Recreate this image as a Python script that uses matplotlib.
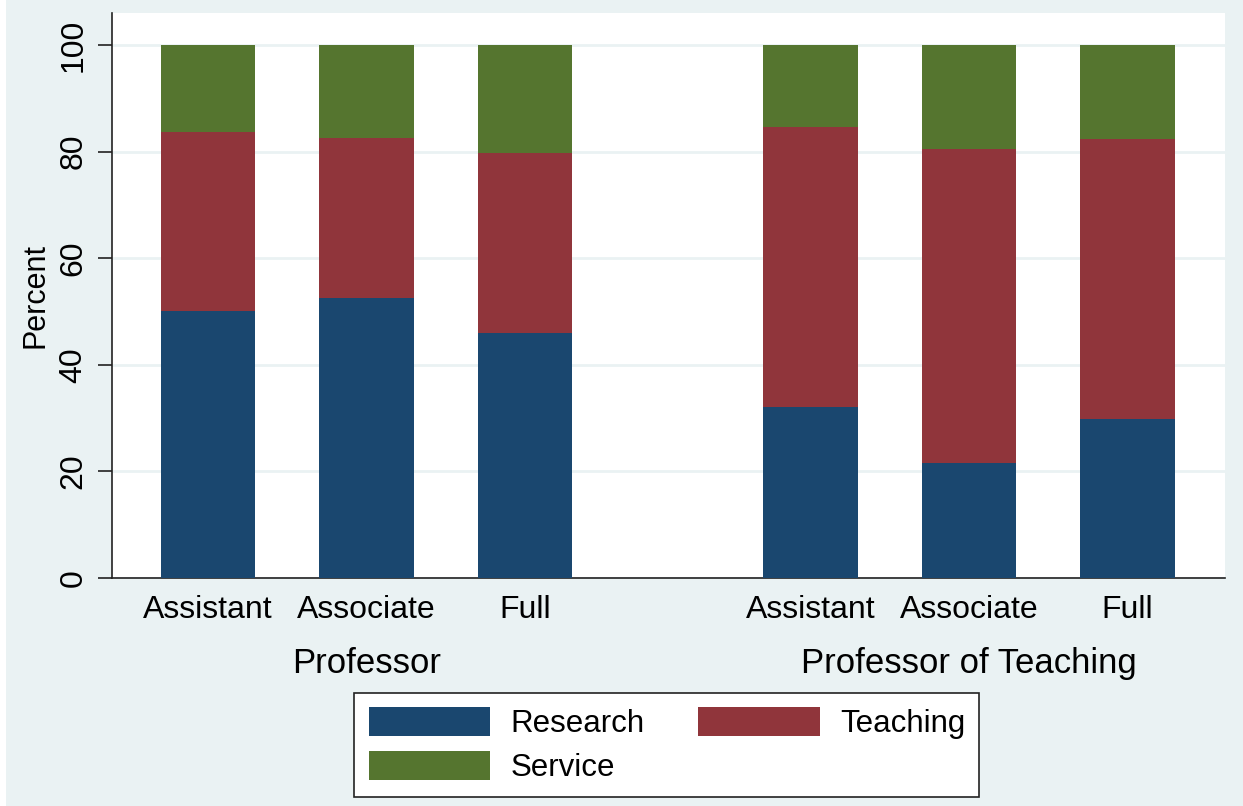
import matplotlib
matplotlib.use('Agg')
import matplotlib.pyplot as plt
from matplotlib.patches import Rectangle
from matplotlib.transforms import blended_transform_factory
import numpy as np

plt.rcParams['font.family'] = ['Liberation Sans', 'DejaVu Sans']

# datos
grupos = ['Professor', 'Professor of Teaching']
rangos = ['Assistant', 'Associate', 'Full']
research = [50.1, 52.6, 46.0, 32.0, 21.6, 29.8]
teaching = [33.6, 29.9, 33.7, 52.6, 58.9, 52.6]
service = [16.3, 17.5, 20.3, 15.4, 19.5, 17.6]

color_research = '#1A476F'
color_teaching = '#90353B'
color_service = '#55752F'
color_fondo = '#EAF2F3'

pos = np.array([0, 1, 2, 3.8, 4.8, 5.8])
ancho = 0.595

fig = plt.figure(figsize=(12.43, 8.06), dpi=100)
fig.patch.set_facecolor('white')
fig.patches.append(Rectangle((6/1243, 0), 1, 1, transform=fig.transFigure,
                             facecolor=color_fondo, edgecolor='none', zorder=-10))
ax = fig.add_axes([112/1243, 1 - 578/806, (1225 - 112)/1243, (578 - 13)/806])
ax.set_facecolor('white')

research = np.array(research)
teaching = np.array(teaching)
service = np.array(service)

b1 = ax.bar(pos, research, width=ancho, color=color_research, label='Research', zorder=3)
b2 = ax.bar(pos, teaching, width=ancho, bottom=research, color=color_teaching,
            label='Teaching', zorder=3)
b3 = ax.bar(pos, service, width=ancho, bottom=research + teaching, color=color_service,
            label='Service', zorder=3)

ax.set_ylim(0, 106)
ax.set_xlim(-0.606, 6.416)
ax.set_yticks([0, 20, 40, 60, 80, 100])
ax.yaxis.grid(True, color=color_fondo, linewidth=2, zorder=0)
ax.set_axisbelow(True)

ax.set_xticks(pos)
ax.set_xticklabels(rangos * 2, fontsize=23)
ax.tick_params(axis='x', length=0, pad=12)
ax.tick_params(axis='y', length=10, width=1.2, pad=7, labelsize=23, color='#222222')
for t in ax.get_yticklabels():
    t.set_rotation(90)
    t.set_va('center')

ax.set_ylabel('Percent', fontsize=22, labelpad=6)

for s in ['top', 'right']:
    ax.spines[s].set_visible(False)
for s in ['left', 'bottom']:
    ax.spines[s].set_color('#222222')
    ax.spines[s].set_linewidth(1.2)

trans = blended_transform_factory(ax.transData, ax.transAxes)
ax.text(pos[:3].mean(), -0.151, grupos[0], transform=trans, ha='center', va='center',
        fontsize=25)
ax.text(pos[3:].mean(), -0.151, grupos[1], transform=trans, ha='center', va='center',
        fontsize=25)

# orden por filas como en la figura original
leg = fig.legend([b1, b3, b2], ['Research', 'Service', 'Teaching'],
                 loc='center', bbox_to_anchor=(667/1243, 1 - 745/806), ncol=2,
                 fontsize=22.5, frameon=True, fancybox=False, edgecolor='#222222',
                 facecolor='white', framealpha=1,
                 handlelength=3.9, handleheight=1.05, handletextpad=0.65,
                 columnspacing=1.7, labelspacing=0.4, borderpad=0.45)
leg.get_frame().set_linewidth(1.2)

plt.savefig('out.png', dpi=100, facecolor=fig.get_facecolor())
